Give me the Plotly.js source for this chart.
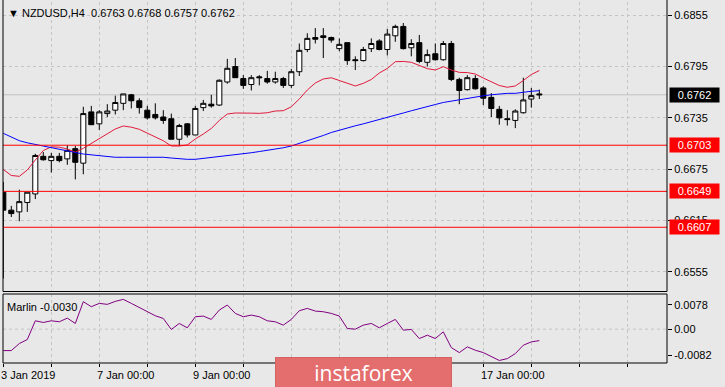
<!DOCTYPE html>
<html>
<head>
<meta charset="utf-8">
<script src="https://cdn.plot.ly/plotly-3.0.1.min.js"></script>
<style>
  html, body { margin: 0; padding: 0; background: #e8e8e8; }
  #chart { width: 725px; height: 387px; }
</style>
</head>
<body>
<div id="chart"></div>
<script>
// ---- Data ----
const opens = [0.6648,0.6627,0.6625,0.6636,0.6646,0.6690,0.6685,0.6690,0.6687,0.6699,
  0.6682,0.6742,0.6728,0.6740,0.6744,0.6752,0.6762,0.6755,0.6744,0.6739,
  0.6736,0.6734,0.6710,0.6728,0.6715,0.6747,0.6751,0.6750,0.6777,0.6795,
  0.6781,0.6774,0.6783,0.6781,0.6777,0.6781,0.6773,0.6789,0.6815,0.6829,
  0.6831,0.6829,0.6816,0.6823,0.6803,0.6802,0.6816,0.6825,0.6815,0.6831,
  0.6842,0.6817,0.6823,0.6800,0.6810,0.6803,0.6822,0.6780,0.6768,0.6781,
  0.6770,0.6759,0.6745,0.6734,0.6732,0.6741,0.6757,0.6763];
const highs = [0.6660,0.6632,0.6651,0.6648,0.6693,0.6695,0.6694,0.6694,0.6703,0.6702,
  0.6748,0.6749,0.6744,0.6751,0.6761,0.6763,0.6763,0.6758,0.6749,0.6752,
  0.6744,0.6740,0.6728,0.6729,0.6749,0.6756,0.6762,0.6780,0.6804,0.6805,
  0.6785,0.6785,0.6785,0.6790,0.6789,0.6783,0.6792,0.6822,0.6834,0.6840,
  0.6840,0.6830,0.6828,0.6823,0.6807,0.6818,0.6828,0.6827,0.6839,0.6844,
  0.6846,0.6827,0.6832,0.6815,0.6822,0.6825,0.6825,0.6782,0.6785,0.6785,
  0.6772,0.6764,0.6749,0.6744,0.6745,0.6782,0.6770,0.6768];
const lows = [0.6547,0.6619,0.6614,0.6625,0.6640,0.6685,0.6671,0.6683,0.6680,0.6663,
  0.6669,0.6727,0.6721,0.6736,0.6739,0.6744,0.6746,0.6740,0.6733,0.6733,
  0.6728,0.6710,0.6702,0.6712,0.6715,0.6743,0.6747,0.6749,0.6775,0.6782,
  0.6769,0.6767,0.6773,0.6775,0.6775,0.6770,0.6770,0.6784,0.6812,0.6822,
  0.6805,0.6823,0.6813,0.6797,0.6791,0.6801,0.6812,0.6814,0.6808,0.6824,
  0.6815,0.6807,0.6799,0.6795,0.6802,0.6802,0.6778,0.6751,0.6767,0.6768,
  0.6750,0.6736,0.6727,0.6726,0.6723,0.6740,0.6747,0.6757];
const closes = [0.6627,0.6623,0.6637,0.6648,0.6691,0.6686,0.6690,0.6685,0.6697,0.6683,
  0.6740,0.6727,0.6742,0.6743,0.6753,0.6763,0.6755,0.6747,0.6735,0.6735,
  0.6732,0.6710,0.6726,0.6715,0.6746,0.6752,0.6749,0.6779,0.6793,0.6782,
  0.6773,0.6782,0.6782,0.6777,0.6781,0.6773,0.6789,0.6814,0.6828,0.6827,
  0.6829,0.6826,0.6821,0.6802,0.6802,0.6815,0.6822,0.6815,0.6833,0.6842,
  0.6816,0.6822,0.6801,0.6809,0.6803,0.6822,0.6780,0.6767,0.6782,0.6769,
  0.6758,0.6746,0.6735,0.6733,0.6743,0.6756,0.6761,0.6762];
const redMA = [0.66746,0.66676,0.66666,0.66740,0.66857,0.66968,0.67011,0.67007,0.66986,0.66948,
  0.66994,0.67050,0.67112,0.67171,0.67220,0.67255,0.67241,0.67216,0.67169,0.67128,
  0.67082,0.67021,0.67021,0.67033,0.67103,0.67161,0.67226,0.67319,0.67395,0.67407,
  0.67410,0.67405,0.67403,0.67410,0.67430,0.67434,0.67479,0.67571,0.67676,0.67758,
  0.67805,0.67819,0.67787,0.67752,0.67723,0.67754,0.67799,0.67875,0.67928,0.68007,
  0.68010,0.68000,0.67963,0.67926,0.67910,0.67949,0.67910,0.67882,0.67880,0.67863,
  0.67816,0.67774,0.67729,0.67708,0.67723,0.67787,0.67857,0.67904];
const blueMA = [0.67169,0.67126,0.67083,0.67058,0.67038,0.67017,0.67003,0.66982,0.66962,0.66945,
  0.66927,0.66916,0.66904,0.66894,0.66889,0.66889,0.66889,0.66889,0.66889,0.66889,
  0.66889,0.66880,0.66871,0.66865,0.66865,0.66875,0.66886,0.66900,0.66907,0.66916,
  0.66927,0.66942,0.66956,0.66970,0.66980,0.67000,0.67021,0.67050,0.67087,0.67114,
  0.67144,0.67179,0.67208,0.67237,0.67257,0.67280,0.67304,0.67331,0.67358,0.67378,
  0.67407,0.67433,0.67460,0.67483,0.67506,0.67530,0.67547,0.67559,0.67573,0.67594,
  0.67608,0.67620,0.67629,0.67637,0.67637,0.67652,0.67661,0.67668];
const marlin = [-0.00561,-0.00561,-0.00377,-0.00272,0.00219,0.00175,0.00219,0.00193,0.00289,0.00149,
  0.00719,0.00588,0.00675,0.00649,0.00727,0.00780,0.00675,0.00570,0.00456,0.00351,
  0.00280,-0.00008,0.00149,0.00035,0.00325,0.00342,0.00255,0.00500,0.00631,0.00412,
  0.00325,0.00368,0.00325,0.00219,0.00193,0.00105,0.00255,0.00483,0.00543,0.00473,
  0.00456,0.00412,0.00342,0.00017,0.00000,0.00105,0.00149,0.00035,0.00149,0.00255,
  -0.00026,-0.00008,-0.00246,-0.00158,-0.00246,-0.00070,-0.00482,-0.00614,-0.00464,-0.00552,
  -0.00614,-0.00710,-0.00820,-0.00772,-0.00640,-0.00421,-0.00333,-0.00300];
const priceTicks = [0.6855, 0.6795, 0.6735, 0.6675, 0.6615, 0.6555];
const levelPrices = [0.6703, 0.6649, 0.6607];
const lastPrice = 0.6762;
const timeLabels = ['3 Jan 2019', '7 Jan 00:00', '9 Jan 00:00', '11 Jan 00:00', '15 Jan 00:00', '17 Jan 00:00'];
const timeLabelBars = [0, 12, 24, 36, 48, 60];
const marlinTickText = ['0.0078', '0.00', '-0.0082'];
const titleText = '\u25BC NZDUSD,H4  0.6763 0.6768 0.6757 0.6762';
const marlinText = 'Marlin -0.0030';

// ---- Geometry helpers (layout only) ----
const H = 387, W = 725, mT = 2, mB = 24;
const plotH = H - mT - mB;
const py = Y => (H - mB - Y) / plotH; // pixel Y -> paper fraction
const px = X => (X - 3) / 664;        // pixel X -> paper fraction
const mainBottom = py(291.5), lowTop = py(294);

const bars = opens.map((_, i) => i);
const gridBars = [];
for (let i = 0; i <= 84; i += 6) gridBars.push(i);

const FONT = 'Liberation Sans, DejaVu Sans, Arial, sans-serif';

const traces = [
  {
    type: 'candlestick', x: bars, open: opens, high: highs, low: lows, close: closes,
    xaxis: 'x', yaxis: 'y',
    increasing: { line: { color: '#000000', width: 1 }, fillcolor: '#ffffff' },
    decreasing: { line: { color: '#000000', width: 1 }, fillcolor: '#000000' },
    whiskerwidth: 0, hoverinfo: 'skip'
  },
  { type: 'scatter', mode: 'lines', x: bars, y: redMA, line: { color: '#e0193c', width: 1 }, xaxis: 'x', yaxis: 'y', hoverinfo: 'skip' },
  { type: 'scatter', mode: 'lines', x: bars, y: blueMA, line: { color: '#0000ff', width: 1 }, xaxis: 'x', yaxis: 'y', hoverinfo: 'skip' },
  { type: 'scatter', mode: 'lines', x: bars, y: marlin, line: { color: '#800080', width: 1 }, xaxis: 'x', yaxis: 'y2', hoverinfo: 'skip' }
];

const shapes = [];
shapes.push({ type: 'line', xref: 'paper', x0: 0, x1: 1, yref: 'y', y0: lastPrice, y1: lastPrice, line: { color: '#c0c0c0', width: 1 }, layer: 'below' });
levelPrices.forEach(p => shapes.push({ type: 'line', xref: 'paper', x0: 0, x1: 1, yref: 'y', y0: p, y1: p, line: { color: '#ff0000', width: 1 } }));
shapes.push({ type: 'line', xref: 'paper', x0: 0, x1: 1, yref: 'y2', y0: 0, y1: 0, line: { color: '#c4c4c4', width: 1, dash: '3px,3px' }, layer: 'below' });
shapes.push({ type: 'line', xref: 'paper', yref: 'paper', x0: 0, x1: 1, y0: mainBottom, y1: mainBottom, line: { color: '#000', width: 1 } });
shapes.push({ type: 'line', xref: 'paper', yref: 'paper', x0: 1, x1: 1, y0: mainBottom, y1: 1.01, line: { color: '#000', width: 1 } });
shapes.push({ type: 'line', xref: 'paper', yref: 'paper', x0: 0, x1: 0, y0: mainBottom, y1: 1.01, line: { color: '#000', width: 1 } });
shapes.push({ type: 'rect', xref: 'paper', yref: 'paper', x0: 0, x1: 1, y0: 0, y1: lowTop, line: { color: '#000', width: 1 } });

const annotations = [];
annotations.push({ xref: 'paper', yref: 'paper', x: 0, y: py(13), xanchor: 'left', yanchor: 'middle', xshift: 3, text: titleText, showarrow: false, font: { family: FONT, size: 11, color: '#000' } });
annotations.push({ xref: 'paper', yref: 'paper', x: 0, y: py(307), xanchor: 'left', yanchor: 'middle', xshift: 2, text: marlinText, showarrow: false, font: { family: FONT, size: 11, color: '#000' } });
annotations.push({ xref: 'paper', yref: 'y', x: 1, y: lastPrice, xanchor: 'left', yanchor: 'middle', xshift: 2, text: lastPrice.toFixed(4), showarrow: false, bgcolor: '#000', borderpad: 1, width: 47, height: 12, align: 'center', font: { family: FONT, size: 11, color: '#fff' } });
levelPrices.forEach(p => annotations.push({ xref: 'paper', yref: 'y', x: 1, y: p, xanchor: 'left', yanchor: 'middle', xshift: 2, text: p.toFixed(4), showarrow: false, bgcolor: '#ff0000', borderpad: 1, width: 47, height: 12, align: 'center', font: { family: FONT, size: 11, color: '#fff' } }));
timeLabels.forEach((t, i) => annotations.push({ xref: 'x', yref: 'paper', x: timeLabelBars[i], y: py(375), xanchor: 'left', yanchor: 'middle', xshift: -4, text: t, showarrow: false, font: { family: FONT, size: 11, color: '#000' } }));
// watermark (drawn last so it covers the time labels beneath it, as in the reference)
annotations.push({ xref: 'paper', yref: 'paper', x: px(363.5), y: py(372.5), xanchor: 'center', yanchor: 'middle', text: 'instaforex', showarrow: false, bgcolor: '#e46e6e', bordercolor: '#d46262', borderwidth: 1, borderpad: 0, width: 175, height: 30, align: 'center', valign: 'middle', font: { family: 'Open Sans, Roboto, sans-serif', size: 21, color: '#ffffff' } });

const layout = {
  width: W, height: H,
  margin: { l: 3, r: 58, t: mT, b: mB, pad: 0 },
  paper_bgcolor: '#e8e8e8', plot_bgcolor: '#e8e8e8',
  showlegend: false, hovermode: false,
  boxgap: 0.37, boxgroupgap: 0,
  xaxis: {
    range: [-0.0375, 82.96], anchor: 'y2', rangeslider: { visible: false },
    tickvals: gridBars, showticklabels: false, ticks: 'outside', ticklen: 3, tickcolor: '#000',
    showgrid: true, gridcolor: '#c4c4c4', griddash: '3px,3px', gridwidth: 1,
    zeroline: false, showline: false, fixedrange: true
  },
  yaxis: {
    domain: [mainBottom, 1], range: [0.653185, 0.687056], side: 'right', anchor: 'x',
    tickvals: priceTicks, ticktext: priceTicks.map(v => v.toFixed(4)),
    ticks: 'outside', ticklen: 4, tickcolor: '#000',
    tickfont: { family: FONT, size: 11, color: '#000' },
    showgrid: true, gridcolor: '#c4c4c4', griddash: '3px,3px', gridwidth: 1,
    zeroline: false, showline: false, fixedrange: true
  },
  yaxis2: {
    domain: [0, lowTop], range: [-0.008863, 0.009205], side: 'right', anchor: 'x',
    tickvals: [0.0064, 0, -0.0068], ticktext: marlinTickText,
    ticks: 'outside', ticklen: 4, tickcolor: '#000',
    tickfont: { family: FONT, size: 11, color: '#000' },
    showgrid: false, zeroline: false, showline: false, fixedrange: true
  },
  shapes: shapes,
  annotations: annotations
};

Plotly.newPlot('chart', traces, layout, { staticPlot: true, displayModeBar: false });
</script>
</body>
</html>
